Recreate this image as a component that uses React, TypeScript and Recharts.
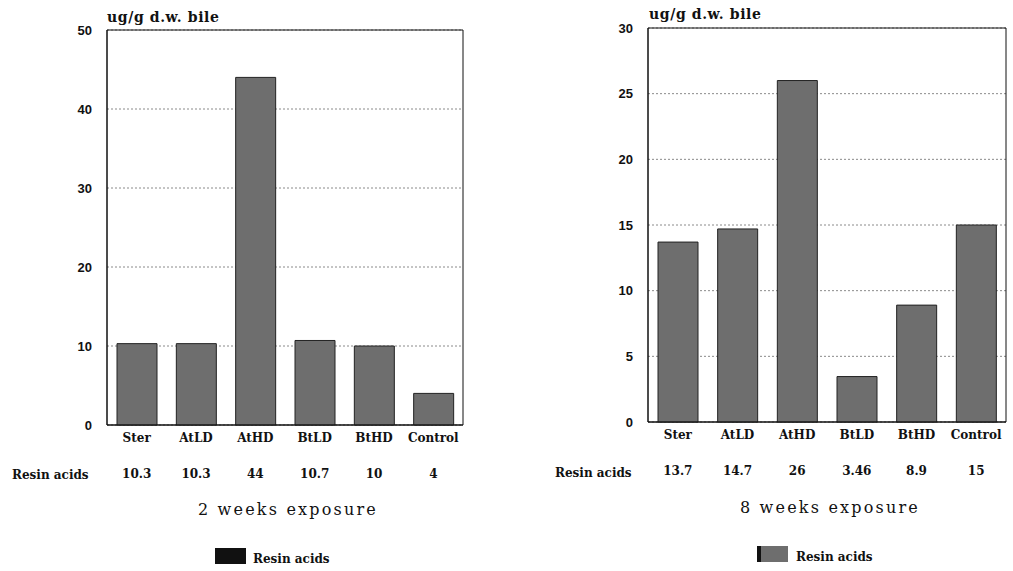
import { Bar, BarChart, CartesianGrid, ReferenceArea, XAxis, YAxis } from "recharts";

const categories = ["Ster", "AtLD", "AtHD", "BtLD", "BtHD", "Control"];

const week2Values = [10.3, 10.3, 44, 10.7, 10, 4];
const week2Labels = ["10.3", "10.3", "44", "10.7", "10", "4"];
const week2Ticks = [0, 10, 20, 30, 40, 50];

const week8Values = [13.7, 14.7, 26, 3.46, 8.9, 15];
const week8Labels = ["13.7", "14.7", "26", "3.46", "8.9", "15"];
const week8Ticks = [0, 5, 10, 15, 20, 25, 30];

const SERIF = "'DejaVu Serif', serif";
const SANS = "'Liberation Sans', Arial, sans-serif";
const BAR = "#6e6e6e";

function Panel({
  values,
  labels,
  ticks,
  width,
  margin,
}: {
  values: number[];
  labels: string[];
  ticks: number[];
  width: number;
  margin: { top: number; right: number; left: number; bottom: number };
}) {
  const data = categories.map((name, i) => ({ name, v: values[i] }));
  const max = ticks[ticks.length - 1];
  return (
    <BarChart width={width} height={571} data={data} margin={margin} barSize={40}>
      <CartesianGrid vertical={false} stroke="#8a8a8a" strokeDasharray="2 2" />
      <XAxis
        xAxisId="cat"
        dataKey="name"
        height={36}
        axisLine={{ stroke: "#111" }}
        tickLine={false}
        tick={{ fill: "#111", fontSize: 12, fontWeight: 700, fontFamily: SERIF }}
        interval={0}
      />
      <XAxis
        xAxisId="vals"
        dataKey="name"
        height={30}
        axisLine={false}
        tickLine={false}
        tick={{ fill: "#111", fontSize: 12, fontWeight: 700, fontFamily: SERIF }}
        tickFormatter={(_v: string, i: number) => labels[i]}
        interval={0}
      />
      <YAxis
        domain={[0, max]}
        ticks={ticks}
        width={60}
        axisLine={{ stroke: "#111" }}
        tickLine={false}
        tickMargin={9}
        tick={{ fill: "#111", fontSize: 13, fontWeight: 700, fontFamily: SANS }}
      />
      <Bar dataKey="v" xAxisId="cat" fill={BAR} stroke="#222" strokeWidth={1} isAnimationActive={false} />
      <ReferenceArea xAxisId="cat" y1={0} y2={max} fill="none" stroke="#111" strokeWidth={1} />
    </BarChart>
  );
}

function Txt({
  x,
  y,
  children,
  size = 12.5,
  center = false,
  spacing = 0,
  font = SERIF,
  weight = 700,
}: {
  x: number;
  y: number;
  children: string;
  size?: number;
  center?: boolean;
  spacing?: number;
  font?: string;
  weight?: number;
}) {
  return (
    <div
      style={{
        position: "absolute",
        left: x,
        top: y,
        transform: center ? "translate(-50%, -50%)" : "translateY(-50%)",
        fontFamily: font,
        fontSize: size,
        fontWeight: weight,
        letterSpacing: spacing,
        color: "#111",
        whiteSpace: "nowrap",
        lineHeight: 1,
      }}
    >
      {children}
    </div>
  );
}

function Swatch({ x, y, color }: { x: number; y: number; color: string }) {
  return (
    <div
      style={{
        position: "absolute",
        left: x,
        top: y,
        width: 31,
        height: 16,
        background: color,
        borderLeft: "4px solid #111",
        boxSizing: "border-box",
      }}
    />
  );
}

export default function App() {
  return (
    <div style={{ position: "absolute", left: 0, top: 0, width: 1013, height: 571, background: "#fff" }}>
      <div style={{ position: "absolute", left: 0, top: 0 }}>
        <Panel
          values={week2Values}
          labels={week2Labels}
          ticks={week2Ticks}
          width={500}
          margin={{ top: 30, right: 37, left: 47, bottom: 80 }}
        />
      </div>
      <div style={{ position: "absolute", left: 520, top: 0 }}>
        <Panel
          values={week8Values}
          labels={week8Labels}
          ticks={week8Ticks}
          width={493}
          margin={{ top: 28, right: 7, left: 68, bottom: 83 }}
        />
      </div>

      <Txt x={107} y={17} size={14} spacing={0.6}>ug/g d.w. bile</Txt>
      <Txt x={649} y={14} size={14} spacing={0.6}>ug/g d.w. bile</Txt>

      <Txt x={12} y={475} size={12}>Resin acids</Txt>
      <Txt x={555} y={473} size={12}>Resin acids</Txt>

      <Txt x={288} y={510} size={16} center spacing={2.2} weight={400}>2 weeks exposure</Txt>
      <Txt x={830} y={508} size={16} center spacing={2.2} weight={400}>8 weeks exposure</Txt>

      <Swatch x={215} y={548} color="#111" />
      <Txt x={253} y={559} size={12}>Resin acids</Txt>
      <Swatch x={757} y={546} color={BAR} />
      <Txt x={796} y={557} size={12}>Resin acids</Txt>
    </div>
  );
}
